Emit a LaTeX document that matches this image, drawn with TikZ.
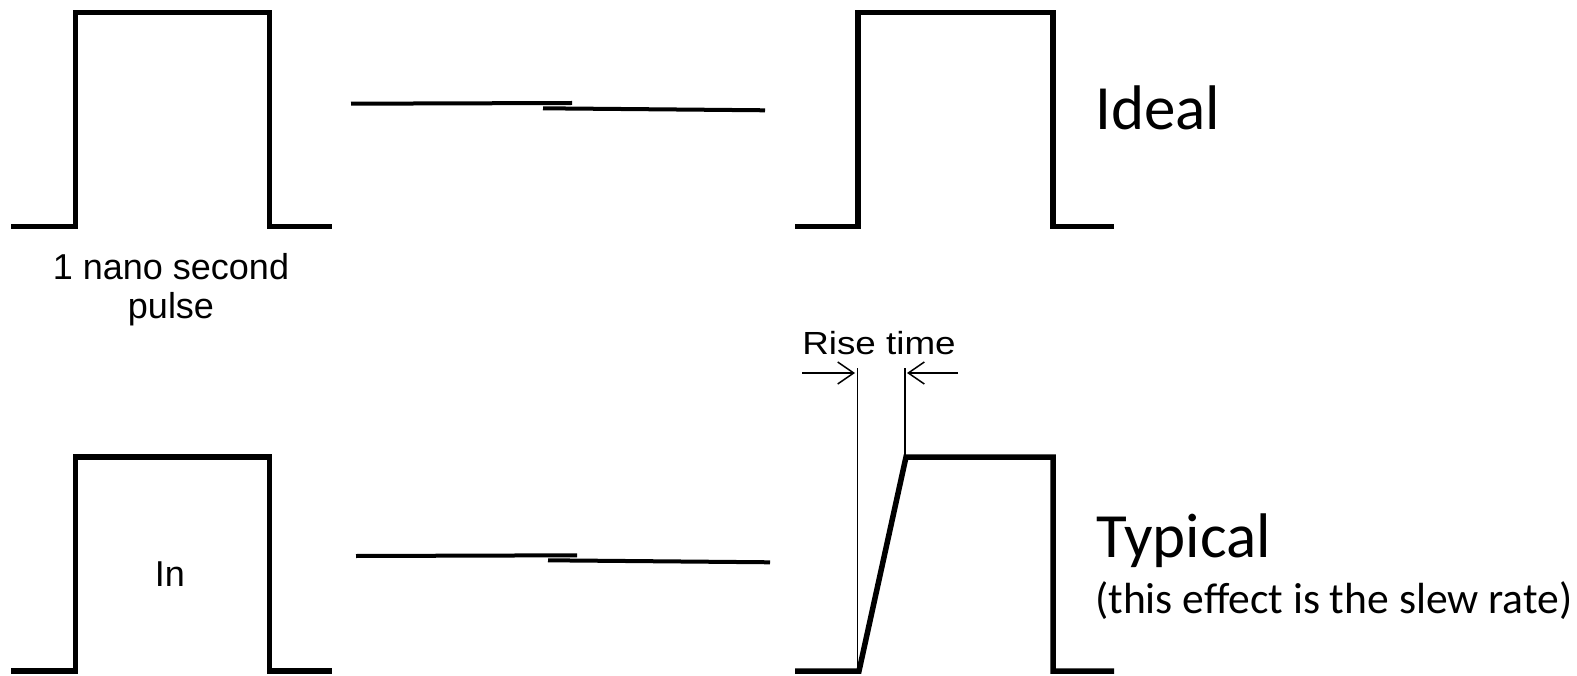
\documentclass[tikz,border=0pt]{standalone}
\usepackage{fontspec}
\setmainfont{Liberation Sans}
\newfontfamily\calfont{Carlito}
\usetikzlibrary{arrows.meta}
\tikzset{
  wave/.style={line width=5.5pt, line join=miter, line cap=butt},
  wire/.style={line width=4pt},
  guide/.style={line width=1.5pt},
  risearrow/.style={line width=1.5pt, -{Straight Barb[length=16pt,width=22pt,line width=1.5pt]}},
  arialtxt/.style={font=\fontsize{36}{38}\selectfont, inner sep=0pt},
  caltxt/.style={font=\calfont\fontsize{63}{70}\selectfont, inner sep=0pt},
  calsmall/.style={font=\calfont\fontsize{43.6}{48}\selectfont, inner sep=0pt}
}
\begin{document}
\begin{tikzpicture}[x=1pt, y=-1pt]
\useasboundingbox (0,0) rectangle (1577,676);

% input pulse, top row
\draw[wave] (11,226.5) -- (75.5,226.5) -- (75.5,12.5) -- (269.5,12.5) -- (269.5,226.5) -- (332,226.5);
\node[arialtxt, anchor=base] (lbl1) at (171,280) {1 nano second};
\node[arialtxt, anchor=base] (lbl2) at (171,319) {pulse};

% line segments, top row
\draw[wire] (351,103.7) -- (572,103);
\draw[wire] (543,108.3) -- (765,110.3);

% ideal output pulse
\draw[wave] (795,226.5) -- (858,226.5) -- (858,12.5) -- (1053,12.5) -- (1053,226.5) -- (1114,226.5);
\node[caltxt, anchor=base west] (ideal) at (1095,130) {Ideal};

% input pulse, bottom row
\draw[wave] (11,671) -- (75.5,671) -- (75.5,457) -- (269.5,457) -- (269.5,671) -- (332,671);
\node[arialtxt, anchor=base] (in) at (170,586) {In};

% line segments, bottom row
\draw[wire] (356,556) -- (577,555.3);
\draw[wire] (548,560.3) -- (770,562.3);

% typical output pulse with finite rise
\draw[wave] (795,671) -- (859,671) -- (906,457) -- (1053,457) -- (1053,671) -- (1114,671);

% rise time markers
\coordinate (g1t) at (857.7,368);
\coordinate (g1b) at (857.7,671);
\coordinate (g2t) at (905,368);
\coordinate (g2b) at (905,457);
\draw[guide] (g1t) -- (g1b);
\draw[guide] (g2t) -- (g2b);
\coordinate (a1) at (802,373);
\coordinate (a1e) at (855,373);
\coordinate (a2) at (958,373);
\coordinate (a2e) at (907,373);
\draw[risearrow] (a1) -- (a1e);
\draw[risearrow] (a2) -- (a2e);
\node[inner sep=0pt, anchor=base, font=\fontsize{32}{34}\selectfont] (rise) at (879,354) {\scalebox{1.15}[1]{Rise time}};

\node[caltxt, anchor=base west] (typ) at (1096,557) {Typical};
\node[calsmall, anchor=base west] (slew) at (1095,613) {(this effect is the slew rate)};
\end{tikzpicture}
\end{document}
